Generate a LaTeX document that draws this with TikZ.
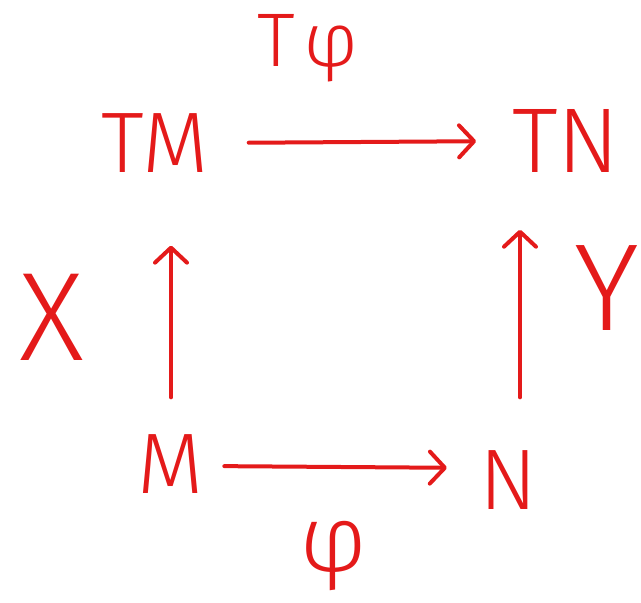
\documentclass[tikz,border=0pt]{standalone}
\usepackage{fontspec}
\setmainfont{Fira Sans Light}
\usetikzlibrary{arrows.meta}
\definecolor{ink}{RGB}{228,26,26}
\tikzset{
  lbl/.style={text=ink, inner sep=0pt},
  big/.style={font=\fontsize{86}{86}\selectfont},
  arr/.style={draw=ink, line width=4pt, line cap=round,
    -{Straight Barb[length=15pt,width=32pt,line width=4pt,round]}}
}
\begin{document}
\begin{tikzpicture}[x=1pt,y=-1pt]
\useasboundingbox (0,0) rectangle (641,603);
% objects of the square
\node[lbl,big] (tm) at (155,143) {TM};
\node[lbl,big,font=\fontsize{92}{92}\selectfont] (tn) at (566,141) {TN};
\node[lbl,big] (m)  at (171,464) {M};
\node[lbl,big] (n)  at (508,480) {N};
% labels of the maps
\node[lbl,font=\fontsize{76}{76}\selectfont] (tphi) at (308,48) {T\hspace{8pt}φ};
\node[lbl,font=\fontsize{94}{94}\selectfont] (phi) at (333,556) {φ};
\node[lbl,font=\fontsize{126}{126}\selectfont] (x) at (52,317) {X};
\node[lbl,font=\fontsize{124}{124}\selectfont] (y) at (607,288) {Y};
% arrows
\draw[arr, shorten <=40pt, shorten >=36pt] (tm.east) -- (tn.west);
\draw[arr, shorten <=20pt, shorten >=32pt] ([yshift=-2pt]m.east) -- ([yshift=12pt]n.west);
\draw[arr, shorten <=37pt, shorten >=73pt] (m.north) -- (m.north |- tm.south);
\draw[arr, shorten <=53pt, shorten >=57pt] ([xshift=12pt]n.north) -- ([xshift=12pt]n.north |- tn.south);
\end{tikzpicture}
\end{document}
